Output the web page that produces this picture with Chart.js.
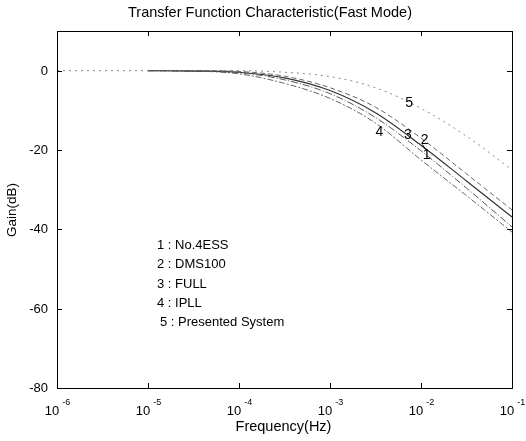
<!DOCTYPE html>
<html>
<head>
<meta charset="utf-8">
<script src="https://cdn.jsdelivr.net/npm/chart.js@4/dist/chart.umd.min.js"></script>
<style>
  html, body { margin: 0; padding: 0; background: #fff; }
  #wrap { width: 526px; height: 441px; }
</style>
</head>
<body>
<div id="wrap"><canvas id="tfChart" width="526" height="441"></canvas></div>
<script>
// DATA
const freqs = [1e-5, 3.16e-5, 1e-4, 3.16e-4, 1e-3, 3.16e-3, 1e-2, 3.16e-2, 1e-1];
const freqs5 = [1e-6, 1e-5, 3.16e-5, 1e-4, 3.16e-4, 1e-3, 3.16e-3, 1e-2, 3.16e-2, 1e-1];
const gainNo4ESS = [0, -0.1, -0.5, -2.3, -5.8, -11.8, -20.2, -29.6, -39.4];
const gainDMS100 = [0, 0, -0.2, -1.4, -4.3, -9.2, -17.0, -26.0, -35.1];
const gainFULL = [0, -0.1, -0.4, -1.8, -5.0, -10.6, -18.8, -27.8, -36.9];
const gainIPLL = [0, -0.1, -0.8, -3.2, -7.0, -13.2, -22.5, -31.5, -40.7];
const gainPresented = [0, 0, 0, 0, -0.4, -1.5, -4.3, -9.5, -16.5, -25.0];

const legendLines = ['1 : No.4ESS', '2 : DMS100', '3 : FULL', '4 : IPLL', '5 : Presented System'];
const yTicks = [0, -20, -40, -60, -80];
const xExps = [-6, -5, -4, -3, -2, -1];

// curve number labels: [text, freq, dB]
const curveLabels = [
  ['5', 7.4e-3, -8.1],
  ['4', 3.5e-3, -15.4],
  ['3', 7.2e-3, -16.3],
  ['2', 1.1e-2, -17.6],
  ['1', 1.15e-2, -21.4]
];

const FONT = '"Liberation Sans", Arial, sans-serif';

function pts(xs, ys) {
  return xs.map((x, i) => ({ x: x, y: ys[i] }));
}

// draw box, ticks and all text like a MATLAB figure
const matlabAxes = {
  id: 'matlabAxes',
  afterDraw(chart) {
    const ctx = chart.ctx;
    const a = chart.chartArea;
    const xs = chart.scales.x;
    const ys = chart.scales.y;
    ctx.save();
    ctx.strokeStyle = '#000';
    ctx.fillStyle = '#000';
    ctx.lineWidth = 1;
    ctx.strokeRect(Math.round(a.left) + 0.5, Math.round(a.top) + 0.5,
      Math.round(a.right - a.left), Math.round(a.bottom - a.top));

    // y ticks
    ctx.font = '13px ' + FONT;
    ctx.textAlign = 'right';
    ctx.textBaseline = 'middle';
    yTicks.forEach(v => {
      const py = Math.round(ys.getPixelForValue(v)) + 0.5;
      ctx.beginPath();
      ctx.moveTo(a.left, py); ctx.lineTo(a.left + 5, py);
      ctx.moveTo(a.right, py); ctx.lineTo(a.right - 5, py);
      ctx.stroke();
      ctx.fillText(String(v), a.left - 9, py);
    });

    // x ticks, labelled 10^e
    xExps.forEach(e => {
      const px = Math.round(xs.getPixelForValue(Math.pow(10, e))) + 0.5;
      ctx.beginPath();
      ctx.moveTo(px, a.bottom); ctx.lineTo(px, a.bottom - 5);
      ctx.moveTo(px, a.top); ctx.lineTo(px, a.top + 5);
      ctx.stroke();
      ctx.font = '13px ' + FONT;
      const baseW = ctx.measureText('10').width;
      ctx.font = '9px ' + FONT;
      const expStr = String(e);
      const expW = ctx.measureText(expStr).width + 3;
      const start = px - (baseW + expW) / 2;
      ctx.textAlign = 'left';
      ctx.textBaseline = 'alphabetic';
      ctx.font = '13px ' + FONT;
      ctx.fillText('10', start, a.bottom + 27);
      ctx.font = '9px ' + FONT;
      ctx.fillText(expStr, start + baseW + 3, a.bottom + 17);
    });

    // axis titles + chart title
    ctx.textAlign = 'center';
    ctx.textBaseline = 'middle';
    ctx.font = '14.5px ' + FONT;
    ctx.fillText('Frequency(Hz)', (a.left + a.right) / 2 - 1, 427);
    ctx.fillText('Transfer Function Characteristic(Fast Mode)', 270, 13);
    ctx.save();
    ctx.translate(12, 210);
    ctx.rotate(-Math.PI / 2);
    ctx.font = '13.5px ' + FONT;
    ctx.fillText('Gain(dB)', 0, 0);
    ctx.restore();

    // legend text block
    ctx.font = '13px ' + FONT;
    ctx.textAlign = 'left';
    const legY = [245, 264, 284, 303, 322];
    legendLines.forEach((t, i) => {
      ctx.fillText(t, i === 4 ? 160 : 157, legY[i]);
    });

    // curve numbers
    ctx.font = '14px ' + FONT;
    ctx.textAlign = 'center';
    curveLabels.forEach(l => {
      ctx.fillText(l[0], xs.getPixelForValue(l[1]), ys.getPixelForValue(l[2]));
    });
    // little pointer above label 1
    const p1x = xs.getPixelForValue(curveLabels[4][1]);
    const p1y = ys.getPixelForValue(curveLabels[4][2]);
    ctx.beginPath();
    ctx.moveTo(p1x - 1, p1y - 6);
    ctx.lineTo(p1x - 4, p1y - 11);
    ctx.stroke();
    ctx.restore();
  }
};

const ctx = document.getElementById('tfChart');
const lineBase = { pointRadius: 0, borderWidth: 1, fill: false, cubicInterpolationMode: 'monotone' };

new Chart(ctx, {
  type: 'line',
  data: {
    datasets: [
      Object.assign({ label: 'No.4ESS', data: pts(freqs, gainNo4ESS), borderColor: '#555', borderDash: [7, 2, 1, 2] }, lineBase),
      Object.assign({ label: 'DMS100', data: pts(freqs, gainDMS100), borderColor: '#666', borderDash: [5, 3] }, lineBase),
      Object.assign({ label: 'FULL', data: pts(freqs, gainFULL), borderColor: '#333' }, lineBase, { borderWidth: 1.2 }),
      Object.assign({ label: 'IPLL', data: pts(freqs, gainIPLL), borderColor: '#666', borderDash: [6, 2, 2, 2] }, lineBase),
      Object.assign({ label: 'Presented System', data: pts(freqs5, gainPresented), borderColor: '#888', borderDash: [2, 4] }, lineBase)
    ]
  },
  options: {
    responsive: false,
    animation: false,
    layout: { padding: { left: 57, right: 14, top: 31, bottom: 53 } },
    plugins: {
      legend: { display: false },
      tooltip: { enabled: false },
      title: { display: false }
    },
    scales: {
      x: {
        type: 'logarithmic',
        min: 1e-6,
        max: 1e-1,
        display: false
      },
      y: {
        min: -80,
        max: 10,
        display: false
      }
    }
  },
  plugins: [matlabAxes]
});
</script>
</body>
</html>
